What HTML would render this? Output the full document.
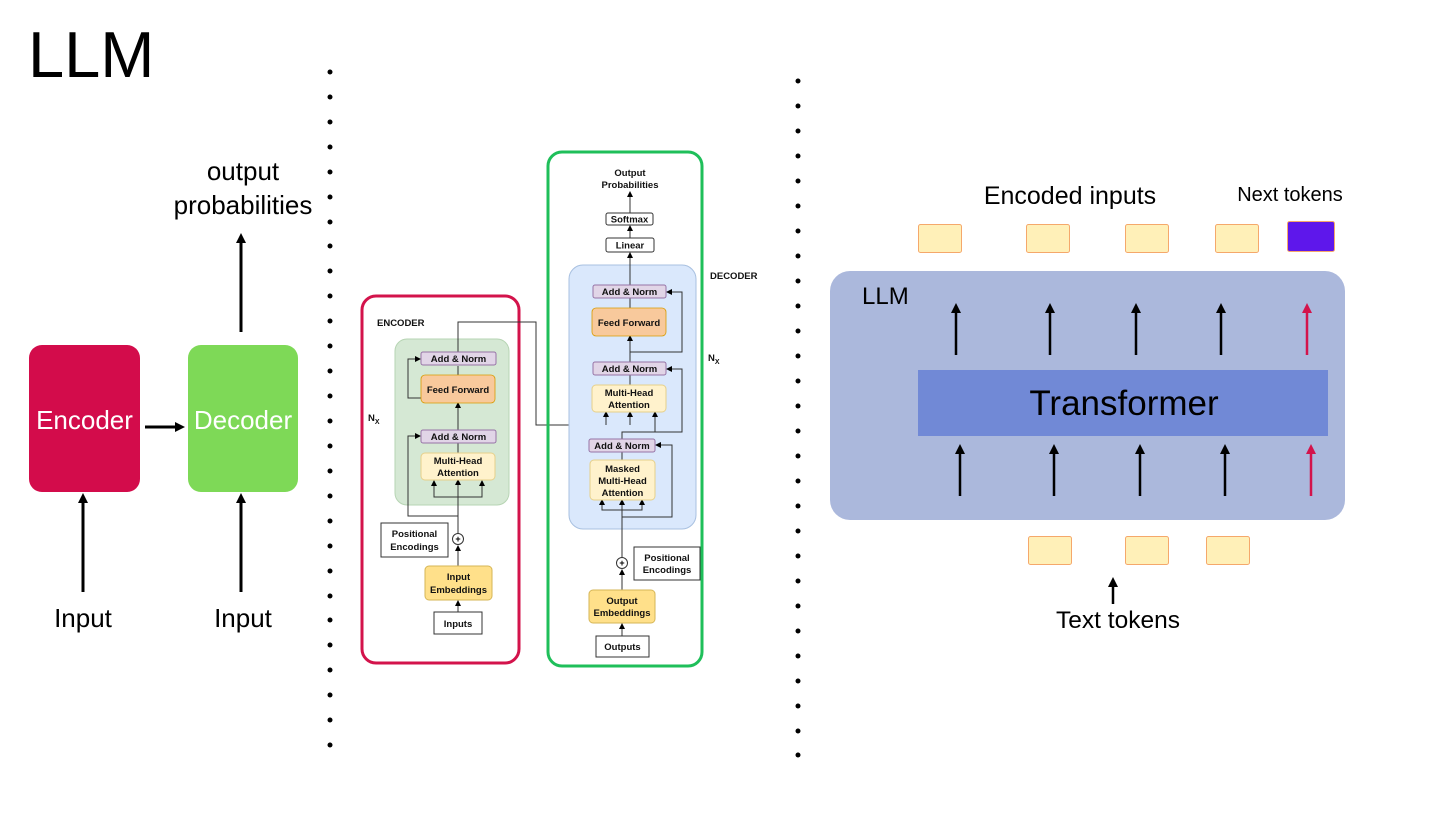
<!DOCTYPE html>
<html><head><meta charset="utf-8"><style>
html,body{margin:0;padding:0;background:#fff}
svg{display:block}
text{font-family:"Liberation Sans",sans-serif}
.b{font-weight:bold;font-size:9.5px;fill:#111}
</style></head><body>
<svg width="1456" height="819" viewBox="0 0 1456 819" xmlns="http://www.w3.org/2000/svg">
<defs>
<marker id="a" markerWidth="10" markerHeight="10" refX="5" refY="5" orient="auto" markerUnits="userSpaceOnUse"><path d="M0,0 L10,5 L0,10 z" fill="#000"/></marker>
<marker id="s" markerWidth="6" markerHeight="6" refX="5" refY="3" orient="auto" markerUnits="userSpaceOnUse"><path d="M0,0 L6,3 L0,6 z" fill="#000"/></marker>
<marker id="r" markerWidth="10" markerHeight="10" refX="5" refY="5" orient="auto" markerUnits="userSpaceOnUse"><path d="M0,0 L10,5 L0,10 z" fill="#d3134b"/></marker>
</defs>

<!-- Left part -->
<text x="28" y="77" font-size="65">LLM</text>
<rect x="29" y="345" width="111" height="147" rx="13" fill="#d30c4b"/>
<text x="84.5" y="429" font-size="26" fill="#fff" text-anchor="middle">Encoder</text>
<rect x="188" y="345" width="110" height="147" rx="13" fill="#7ed957"/>
<text x="243" y="429" font-size="26" fill="#fff" text-anchor="middle">Decoder</text>
<line x1="83" y1="592" x2="83" y2="498" stroke="#000" stroke-width="3" marker-end="url(#a)"/>
<line x1="241" y1="592" x2="241" y2="498" stroke="#000" stroke-width="3" marker-end="url(#a)"/>
<line x1="145" y1="427" x2="180" y2="427" stroke="#000" stroke-width="3" marker-end="url(#a)"/>
<line x1="241" y1="332" x2="241" y2="238" stroke="#000" stroke-width="3" marker-end="url(#a)"/>
<text x="243" y="180" font-size="26" text-anchor="middle">output</text>
<text x="243" y="214" font-size="26" text-anchor="middle">probabilities</text>
<text x="83" y="627" font-size="26" text-anchor="middle">Input</text>
<text x="243" y="627" font-size="26" text-anchor="middle">Input</text>

<!-- Encoder -->
<rect x="362" y="296" width="157" height="367" rx="14" fill="none" stroke="#d3134b" stroke-width="3"/>
<text x="377" y="326" class="b" font-size="9">ENCODER</text>
<rect x="395" y="339" width="114" height="166" rx="12" fill="#d5e8d4" stroke="#b6d4b3"/>
<text x="368" y="421" class="b" font-size="10">N<tspan font-size="7" dy="3">X</tspan></text>
<polyline points="458,353 458,322 536,322 536,425 630,425" fill="none" stroke="#333" stroke-width="1"/>
<line x1="458" y1="443" x2="458" y2="453" stroke="#333"/>
<line x1="458" y1="430" x2="458" y2="403" stroke="#333" marker-end="url(#s)"/>
<polyline points="458,398 408,398 408,359 420,359" fill="none" stroke="#333" marker-end="url(#s)"/>
<line x1="458" y1="375" x2="458" y2="366" stroke="#333"/>
<polyline points="458,545 458,516 408,516 408,436 420,436" fill="none" stroke="#333" marker-end="url(#s)"/>
<line x1="458" y1="533" x2="458" y2="480" stroke="#333" marker-end="url(#s)"/>
<polyline points="434,487 434,497 482,497 482,481" fill="none" stroke="#333" marker-end="url(#s)"/>
<line x1="434" y1="487" x2="434" y2="481" stroke="#333" marker-end="url(#s)"/>
<rect x="421" y="352" width="75" height="13" rx="2" fill="#e1d5e7" stroke="#9673a6"/>
<text x="458.5" y="362" class="b" text-anchor="middle">Add &amp; Norm</text>
<rect x="421" y="375" width="74" height="28" rx="4" fill="#f8c99c" stroke="#d79b00" stroke-width=".8"/>
<text x="458" y="393" class="b" text-anchor="middle">Feed Forward</text>
<rect x="421" y="430" width="75" height="13" rx="2" fill="#e1d5e7" stroke="#9673a6"/>
<text x="458.5" y="440" class="b" text-anchor="middle">Add &amp; Norm</text>
<rect x="421" y="453" width="74" height="27" rx="4" fill="#fff2cc" stroke="#e6d08a"/>
<text x="458" y="464" class="b" text-anchor="middle">Multi-Head</text>
<text x="458" y="476" class="b" text-anchor="middle">Attention</text>
<rect x="381" y="523" width="67" height="34" fill="#fff" stroke="#333"/>
<text x="414.5" y="537" class="b" text-anchor="middle">Positional</text>
<text x="414.5" y="550" class="b" text-anchor="middle">Encodings</text>
<circle cx="458" cy="539" r="5.5" fill="#fff" stroke="#333"/>
<text x="458" y="542" font-size="9" font-weight="bold" text-anchor="middle">+</text>
<line x1="458" y1="566" x2="458" y2="546" stroke="#333" marker-end="url(#s)"/>
<rect x="425" y="566" width="67" height="34" rx="4" fill="#ffe08a" stroke="#d6b656"/>
<text x="458.5" y="580" class="b" text-anchor="middle">Input</text>
<text x="458.5" y="593" class="b" text-anchor="middle">Embeddings</text>
<line x1="458" y1="612" x2="458" y2="601" stroke="#333" marker-end="url(#s)"/>
<rect x="434" y="612" width="48" height="22" fill="#fff" stroke="#333"/>
<text x="458" y="627" class="b" text-anchor="middle">Inputs</text>

<!-- Decoder -->
<rect x="548" y="152" width="154" height="514" rx="14" fill="none" stroke="#1fbf5a" stroke-width="3"/>
<text x="630" y="176" class="b" text-anchor="middle">Output</text>
<text x="630" y="188" class="b" text-anchor="middle">Probabilities</text>
<text x="710" y="279" class="b" font-size="9">DECODER</text>
<text x="708" y="361" class="b" font-size="10">N<tspan font-size="7" dy="3">X</tspan></text>
<line x1="630" y1="213" x2="630" y2="192" stroke="#333" marker-end="url(#s)"/>
<rect x="606" y="213" width="47" height="12" rx="2" fill="#fff" stroke="#333"/>
<text x="629.5" y="222.5" class="b" text-anchor="middle">Softmax</text>
<line x1="630" y1="238" x2="630" y2="226" stroke="#333" marker-end="url(#s)"/>
<rect x="606" y="238" width="48" height="14" rx="2" fill="#fff" stroke="#333"/>
<text x="630" y="248.5" class="b" text-anchor="middle">Linear</text>
<rect x="569" y="265" width="127" height="264" rx="14" fill="#dae8fc" stroke="#a8c0e0"/>
<line x1="630" y1="285" x2="630" y2="253" stroke="#333" marker-end="url(#s)"/>
<line x1="630" y1="308" x2="630" y2="298" stroke="#333"/>
<polyline points="630,352 682,352 682,292 667,292" fill="none" stroke="#333" marker-end="url(#s)"/>
<line x1="630" y1="362" x2="630" y2="336" stroke="#333" marker-end="url(#s)"/>
<line x1="630" y1="385" x2="630" y2="375" stroke="#333"/>
<polyline points="622,439 622,432 682,432 682,369 667,369" fill="none" stroke="#333" marker-end="url(#s)"/>
<line x1="655" y1="432" x2="655" y2="412" stroke="#333" marker-end="url(#s)"/>
<line x1="606" y1="425" x2="606" y2="412" stroke="#333" marker-end="url(#s)"/>
<line x1="630" y1="425" x2="630" y2="412" stroke="#333" marker-end="url(#s)"/>
<line x1="622" y1="460" x2="622" y2="452" stroke="#333"/>
<polyline points="622,557 622,517 672,517 672,445 656,445" fill="none" stroke="#333" marker-end="url(#s)"/>
<line x1="622" y1="517" x2="622" y2="500" stroke="#333" marker-end="url(#s)"/>
<polyline points="602,500 602,510 642,510 642,500" fill="none" stroke="#333" marker-end="url(#s)"/>
<line x1="602" y1="506" x2="602" y2="500" stroke="#333" marker-end="url(#s)"/>
<rect x="593" y="285" width="73" height="13" rx="2" fill="#e1d5e7" stroke="#9673a6"/>
<text x="629.5" y="295" class="b" text-anchor="middle">Add &amp; Norm</text>
<rect x="592" y="308" width="74" height="28" rx="4" fill="#f8c99c" stroke="#d79b00" stroke-width=".8"/>
<text x="629" y="326" class="b" text-anchor="middle">Feed Forward</text>
<rect x="593" y="362" width="73" height="13" rx="2" fill="#e1d5e7" stroke="#9673a6"/>
<text x="629.5" y="372" class="b" text-anchor="middle">Add &amp; Norm</text>
<rect x="592" y="385" width="74" height="27" rx="4" fill="#fff2cc" stroke="#e6d08a"/>
<text x="629" y="396" class="b" text-anchor="middle">Multi-Head</text>
<text x="629" y="408" class="b" text-anchor="middle">Attention</text>
<rect x="589" y="439" width="66" height="13" rx="2" fill="#e1d5e7" stroke="#9673a6"/>
<text x="622" y="449" class="b" text-anchor="middle">Add &amp; Norm</text>
<rect x="590" y="460" width="65" height="40" rx="4" fill="#fff2cc" stroke="#e6d08a"/>
<text x="622.5" y="472" class="b" text-anchor="middle">Masked</text>
<text x="622.5" y="484" class="b" text-anchor="middle">Multi-Head</text>
<text x="622.5" y="496" class="b" text-anchor="middle">Attention</text>
<circle cx="622" cy="563" r="5.5" fill="#fff" stroke="#333"/>
<text x="622" y="566" font-size="9" font-weight="bold" text-anchor="middle">+</text>
<rect x="634" y="547" width="66" height="33" fill="#fff" stroke="#333"/>
<text x="667" y="561" class="b" text-anchor="middle">Positional</text>
<text x="667" y="573" class="b" text-anchor="middle">Encodings</text>
<line x1="622" y1="590" x2="622" y2="570" stroke="#333" marker-end="url(#s)"/>
<rect x="589" y="590" width="66" height="33" rx="4" fill="#ffe08a" stroke="#d6b656"/>
<text x="622" y="604" class="b" text-anchor="middle">Output</text>
<text x="622" y="616" class="b" text-anchor="middle">Embeddings</text>
<line x1="622" y1="636" x2="622" y2="624" stroke="#333" marker-end="url(#s)"/>
<rect x="596" y="636" width="53" height="21" fill="#fff" stroke="#333"/>
<text x="622.5" y="650" class="b" text-anchor="middle">Outputs</text>

<!-- Right part -->
<text x="1070" y="204" font-size="25" text-anchor="middle">Encoded inputs</text>
<text x="1290" y="201" font-size="20" text-anchor="middle">Next tokens</text>
<g fill="#fff0b8" stroke="#f5a86b" stroke-width="1">
<rect x="918.5" y="224.5" width="43" height="28" rx="2"/>
<rect x="1026.5" y="224.5" width="43" height="28" rx="2"/>
<rect x="1125.5" y="224.5" width="43" height="28" rx="2"/>
<rect x="1215.5" y="224.5" width="43" height="28" rx="2"/>
<rect x="1028.5" y="536.5" width="43" height="28" rx="2"/>
<rect x="1125.5" y="536.5" width="43" height="28" rx="2"/>
<rect x="1206.5" y="536.5" width="43" height="28" rx="2"/>
</g>
<rect x="1287.5" y="221.5" width="47" height="30" rx="2" fill="#5e17eb" stroke="#f5a86b"/>
<rect x="830" y="271" width="515" height="249" rx="20" fill="#abb8dc"/>
<text x="862" y="304" font-size="24">LLM</text>
<rect x="918" y="370" width="410" height="66" fill="#7189d6"/>
<text x="1124" y="415" font-size="35" text-anchor="middle">Transformer</text>
<g stroke="#000" stroke-width="2.5">
<line x1="956" y1="355" x2="956" y2="308" marker-end="url(#a)"/>
<line x1="1050" y1="355" x2="1050" y2="308" marker-end="url(#a)"/>
<line x1="1136" y1="355" x2="1136" y2="308" marker-end="url(#a)"/>
<line x1="1221" y1="355" x2="1221" y2="308" marker-end="url(#a)"/>
<line x1="960" y1="496" x2="960" y2="449" marker-end="url(#a)"/>
<line x1="1054" y1="496" x2="1054" y2="449" marker-end="url(#a)"/>
<line x1="1140" y1="496" x2="1140" y2="449" marker-end="url(#a)"/>
<line x1="1225" y1="496" x2="1225" y2="449" marker-end="url(#a)"/>
<line x1="1113" y1="604" x2="1113" y2="582" marker-end="url(#a)"/>
</g>
<g stroke="#d3134b" stroke-width="2.5">
<line x1="1307" y1="355" x2="1307" y2="308" marker-end="url(#r)"/>
<line x1="1311" y1="496" x2="1311" y2="449" marker-end="url(#r)"/>
</g>
<text x="1118" y="628" font-size="24.5" text-anchor="middle">Text tokens</text>

<!-- dots -->
<g fill="#000">
<circle cx="330" cy="72" r="2.5"/><circle cx="330" cy="97" r="2.5"/><circle cx="330" cy="122" r="2.5"/><circle cx="330" cy="147" r="2.5"/><circle cx="330" cy="172" r="2.5"/><circle cx="330" cy="197" r="2.5"/><circle cx="330" cy="222" r="2.5"/><circle cx="330" cy="246" r="2.5"/><circle cx="330" cy="271" r="2.5"/><circle cx="330" cy="296" r="2.5"/><circle cx="330" cy="321" r="2.5"/><circle cx="330" cy="346" r="2.5"/><circle cx="330" cy="371" r="2.5"/><circle cx="330" cy="396" r="2.5"/><circle cx="330" cy="421" r="2.5"/><circle cx="330" cy="446" r="2.5"/><circle cx="330" cy="471" r="2.5"/><circle cx="330" cy="496" r="2.5"/><circle cx="330" cy="521" r="2.5"/><circle cx="330" cy="546" r="2.5"/><circle cx="330" cy="571" r="2.5"/><circle cx="330" cy="596" r="2.5"/><circle cx="330" cy="620" r="2.5"/><circle cx="330" cy="645" r="2.5"/><circle cx="330" cy="670" r="2.5"/><circle cx="330" cy="695" r="2.5"/><circle cx="330" cy="720" r="2.5"/><circle cx="330" cy="745" r="2.5"/>
<circle cx="798" cy="81" r="2.5"/><circle cx="798" cy="106" r="2.5"/><circle cx="798" cy="131" r="2.5"/><circle cx="798" cy="156" r="2.5"/><circle cx="798" cy="181" r="2.5"/><circle cx="798" cy="206" r="2.5"/><circle cx="798" cy="231" r="2.5"/><circle cx="798" cy="256" r="2.5"/><circle cx="798" cy="281" r="2.5"/><circle cx="798" cy="306" r="2.5"/><circle cx="798" cy="331" r="2.5"/><circle cx="798" cy="356" r="2.5"/><circle cx="798" cy="381" r="2.5"/><circle cx="798" cy="406" r="2.5"/><circle cx="798" cy="431" r="2.5"/><circle cx="798" cy="456" r="2.5"/><circle cx="798" cy="481" r="2.5"/><circle cx="798" cy="506" r="2.5"/><circle cx="798" cy="531" r="2.5"/><circle cx="798" cy="556" r="2.5"/><circle cx="798" cy="581" r="2.5"/><circle cx="798" cy="606" r="2.5"/><circle cx="798" cy="631" r="2.5"/><circle cx="798" cy="656" r="2.5"/><circle cx="798" cy="681" r="2.5"/><circle cx="798" cy="706" r="2.5"/><circle cx="798" cy="731" r="2.5"/><circle cx="798" cy="755" r="2.5"/>
</g>
</svg>
</body></html>
